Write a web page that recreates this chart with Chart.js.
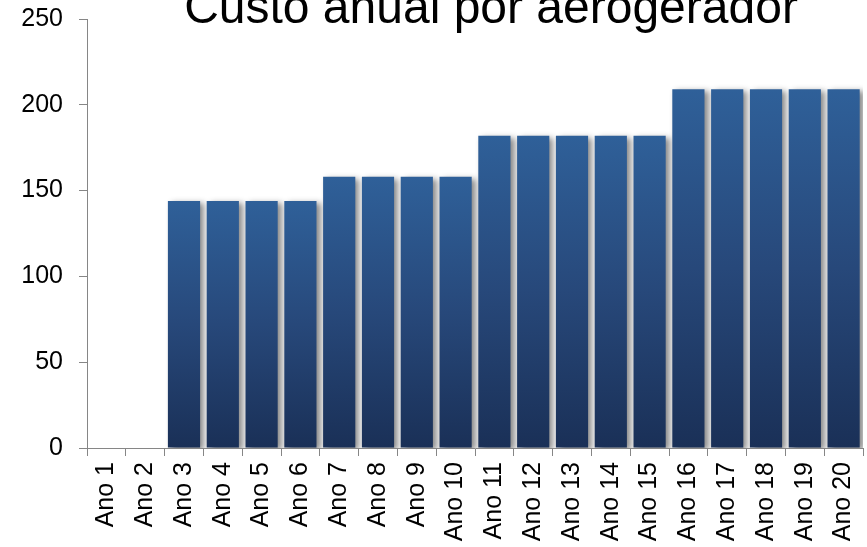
<!DOCTYPE html>
<html>
<head>
<meta charset="utf-8">
<script src="https://cdn.jsdelivr.net/npm/chart.js@4"></script>
<style>
    html, body { margin: 0; padding: 0; background: #ffffff; }
    #wrap { width: 867px; height: 547px; }
</style>
</head>
<body>
<div id="wrap"><canvas id="bar-chart" width="867" height="547"></canvas></div>
<script>
// Yearly cost per wind turbine
const titleText = 'Custo anual por aerogerador';
const years = ['Ano 1', 'Ano 2', 'Ano 3', 'Ano 4', 'Ano 5', 'Ano 6', 'Ano 7', 'Ano 8', 'Ano 9', 'Ano 10',
    'Ano 11', 'Ano 12', 'Ano 13', 'Ano 14', 'Ano 15', 'Ano 16', 'Ano 17', 'Ano 18', 'Ano 19', 'Ano 20'];
const costs = [0, 0, 144, 144, 144, 144, 158, 158, 158, 158,
    182, 182, 182, 182, 182, 209, 209, 209, 209, 209];
const yTicks = [0, 50, 100, 150, 200, 250];

const axisColor = '#868686';
const font = 'Liberation Sans, Arial, sans-serif';

// vertical gradient for each bar, light on top, dark at the base
function barGradient(context) {
    const chart = context.chart;
    if (!chart.chartArea || context.type !== 'data') return '#2a5590';
    const y = chart.scales.y;
    const top = y.getPixelForValue(context.raw);
    const base = y.getPixelForValue(0);
    if (base - top < 1) return '#2a5590';
    const g = chart.ctx.createLinearGradient(0, top, 0, base);
    g.addColorStop(0, '#2f6099');
    g.addColorStop(0.5, '#27487a');
    g.addColorStop(1, '#1a3057');
    return g;
}

// soft drop shadow under the bars
const barShadow = {
    id: 'barShadow',
    beforeDatasetsDraw(chart) {
        const ctx = chart.ctx;
        ctx.save();
        ctx.shadowColor = 'rgba(0, 0, 0, 0.45)';
        ctx.shadowBlur = 6;
        ctx.shadowOffsetX = 4;
        ctx.shadowOffsetY = 2;
    },
    afterDatasetsDraw(chart) {
        chart.ctx.restore();
    }
};

// big title sitting over the top of the plot
const topTitle = {
    id: 'topTitle',
    afterDraw(chart) {
        const ctx = chart.ctx;
        ctx.save();
        ctx.font = '48px ' + font;
        ctx.fillStyle = '#000000';
        ctx.textAlign = 'center';
        ctx.textBaseline = 'alphabetic';
        ctx.fillText(titleText, 491, 23);
        ctx.restore();
    }
};

const ctx = document.getElementById('bar-chart').getContext('2d');
new Chart(ctx, {
    type: 'bar',
    data: {
        labels: years,
        datasets: [{
            label: titleText,
            data: costs,
            backgroundColor: barGradient,
            borderWidth: 0,
            barPercentage: 0.83,
            categoryPercentage: 1
        }]
    },
    options: {
        responsive: false,
        animation: false,
        layout: { padding: { top: 19, right: 4, left: 0, bottom: 0 } },
        plugins: {
            legend: { display: false },
            title: { display: false },
            tooltip: { enabled: false }
        },
        scales: {
            x: {
                afterFit(scale) {
                    scale.height = 99;
                    scale.paddingLeft = 0;
                    scale.paddingRight = 0;
                },
                border: { display: true, color: axisColor, width: 1 },
                grid: {
                    offset: true,
                    drawOnChartArea: false,
                    drawTicks: true,
                    tickLength: 8,
                    color: axisColor
                },
                ticks: {
                    autoSkip: false,
                    minRotation: 90,
                    maxRotation: 90,
                    padding: 6,
                    color: '#000000',
                    font: { family: font, size: 25 }
                }
            },
            y: {
                min: 0,
                max: 250,
                afterFit(scale) {
                    scale.width = 87;
                    scale.paddingTop = 0;
                    scale.paddingBottom = 0;
                },
                afterBuildTicks(scale) { scale.ticks = yTicks.map(v => ({ value: v })); },
                border: { display: true, color: axisColor, width: 1 },
                grid: {
                    drawOnChartArea: false,
                    drawTicks: true,
                    tickLength: 8,
                    color: axisColor
                },
                ticks: {
                    padding: 16,
                    color: '#000000',
                    font: { family: font, size: 25 }
                }
            }
        }
    },
    plugins: [barShadow, topTitle]
});
</script>
</body>
</html>
